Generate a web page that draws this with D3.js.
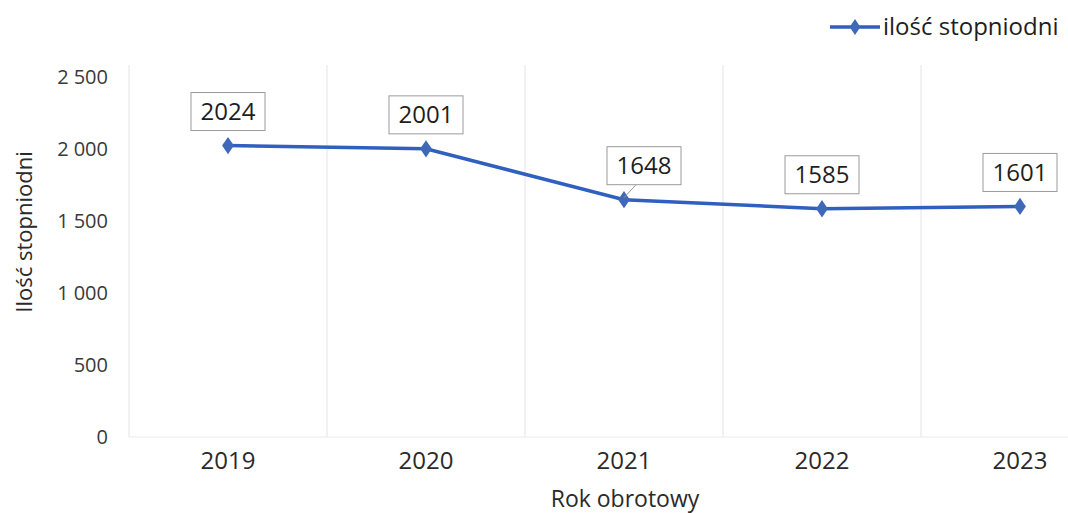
<!DOCTYPE html>
<html><head><meta charset="utf-8">
<script src="https://cdn.jsdelivr.net/npm/d3@7/dist/d3.min.js"></script>
<style>body{margin:0;background:#fff}svg{display:block}text{font-family:"Open Sans",Lato,sans-serif}</style>
</head><body>
<svg id="c" width="1068" height="513"></svg>
<script>
const categories = ["2019","2020","2021","2022","2023"];
const values = [2024, 2001, 1648, 1585, 1601];
const yTicks = [0, 500, 1000, 1500, 2000, 2500];
const seriesName = "ilość stopniodni";
const labelDx = [0, 0, 20, 0, 0];

const svg = d3.select("#c");
const W = 1068, H = 513;
const x = d3.scaleBand().domain(categories).range([129, 1119]).paddingInner(0).paddingOuter(0);
const y = d3.scaleLinear().domain([0, 2500]).range([437, 77]);
const cx = d => x(d) + x.bandwidth()/2;

// vertical gridlines
const edges = categories.map(c => x(c)).concat([x(categories[categories.length-1]) + x.bandwidth()]);
svg.append("g").selectAll("line").data(edges).join("line")
  .attr("x1", d=>d).attr("x2", d=>d).attr("y1", y(2500)-12).attr("y2", y(0))
  .attr("stroke", "#e4e4e4").attr("stroke-width", 1);
// baseline
svg.append("line").attr("x1", 129).attr("x2", W).attr("y1", y(0)).attr("y2", y(0))
  .attr("stroke", "#ebebeb").attr("stroke-width", 1);

// y axis
const yAxis = d3.axisLeft(y).tickValues(yTicks).tickSize(0).tickPadding(0)
  .tickFormat(v => v>=1000 ? (Math.floor(v/1000)+"\u2005"+String(v%1000).padStart(3,"0")) : String(v));
const ga = svg.append("g").attr("transform", "translate(108,0)").call(yAxis);
ga.select(".domain").remove();
ga.selectAll("text").attr("font-size", 20).attr("fill", "#3a3a3a").attr("font-family", "'Open Sans', sans-serif");

// x axis
const xAxis = d3.axisBottom(x).tickSize(0).tickPadding(0);
const gx = svg.append("g").attr("transform", "translate(0,452)").call(xAxis);
gx.select(".domain").remove();
gx.selectAll("text").attr("font-size", 24).attr("fill", "#2a2a2a").attr("dy", "0.72em")
  .attr("font-family", "'Open Sans', sans-serif");

// axis titles
svg.append("text").attr("x", 625).attr("y", 507).attr("text-anchor", "middle")
  .attr("font-size", 23).attr("fill", "#2a2a2a").text("Rok obrotowy");
svg.append("text").attr("transform", "translate(32,232) rotate(-90)").attr("text-anchor", "middle")
  .attr("font-size", 22).attr("fill", "#2a2a2a").text("Ilość stopniodni");

// line
const data = categories.map((c,i)=>({c, v:values[i], dx:labelDx[i]}));
svg.append("path").datum(data)
  .attr("d", d3.line().x(d=>cx(d.c)).y(d=>y(d.v)))
  .attr("fill", "none").attr("stroke", "#2f5fbf").attr("stroke-width", 3.5);
svg.append("g").selectAll("path").data(data).join("path")
  .attr("d", d3.symbol(d3.symbolDiamond, 120))
  .attr("transform", d=>`translate(${cx(d.c)},${y(d.v)}) scale(1,0.85)`)
  .attr("fill", "#3e68b8");

// data labels
const lg = svg.append("g").selectAll("g").data(data).join("g")
  .attr("transform", d=>`translate(${cx(d.c)+d.dx},${y(d.v)-34})`);
lg.filter(d=>d.dx!==0).append("line")
  .attr("x1", -8).attr("y1", 19).attr("x2", d=>-d.dx).attr("y2", 32)
  .attr("stroke", "#999").attr("stroke-width", 1);
lg.append("rect").attr("x", -37).attr("y", -19).attr("width", 74).attr("height", 38)
  .attr("fill", "#fff").attr("stroke", "#9a9a9a").attr("stroke-width", 1);
lg.append("text").attr("text-anchor", "middle").attr("dy", "0.36em")
  .attr("font-size", 24).attr("fill", "#1e1e1e").text(d=>d.v);

// legend
const leg = svg.append("g").attr("transform", "translate(830,27)");
leg.append("line").attr("x1", 0).attr("x2", 50).attr("y1", 0).attr("y2", 0)
  .attr("stroke", "#2f5fbf").attr("stroke-width", 3.5);
leg.append("path").attr("d", d3.symbol(d3.symbolDiamond, 100)).attr("transform", "translate(25,0) scale(1,0.85)").attr("fill", "#3e68b8");
leg.append("text").attr("x", 53).attr("dy", "0.34em").attr("font-size", 24).attr("fill", "#1e1e1e").text(seriesName);
</script>
</body></html>
